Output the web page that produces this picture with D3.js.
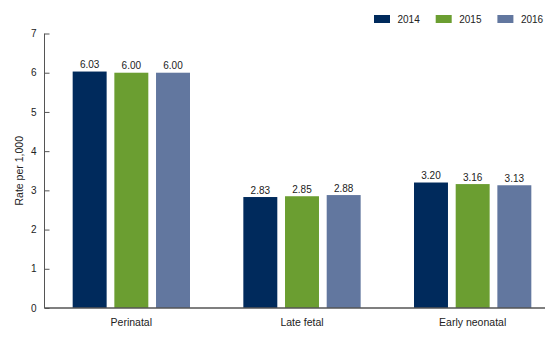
<!DOCTYPE html>
<html>
<head>
<meta charset="utf-8">
<script src="https://cdn.jsdelivr.net/npm/d3@7"></script>
<style>
  body { margin: 0; background: #fff; }
  text { font-family: "Liberation Sans", Arial, sans-serif; font-size: 10px; fill: #222; }
  text.category, text.ytitle { font-size: 10.5px; }
</style>
</head>
<body>
<div id="chart"></div>
<script>
const categories = ['Perinatal', 'Late fetal', 'Early neonatal'];
const years = ['2014', '2015', '2016'];
const rates2014 = [6.03, 2.83, 3.20];
const rates2015 = [6.00, 2.85, 3.16];
const rates2016 = [6.00, 2.88, 3.13];
const yTicks = [0, 1, 2, 3, 4, 5, 6, 7];

const colors = { '2014': '#002a5c', '2015': '#6b9e31', '2016': '#62779f' };
const series = { '2014': rates2014, '2015': rates2015, '2016': rates2016 };

const width = 560;
const height = 344;

const svg = d3.select('#chart').append('svg')
  .attr('width', width)
  .attr('height', height);

const x0 = d3.scaleBand().domain(categories).range([46, 558]);
const x1 = d3.scaleBand().domain(years)
  .range([0, x0.bandwidth()])
  .paddingInner(0.185)
  .paddingOuter(0.64);
const y = d3.scaleLinear().domain([0, 7]).range([308, 33.5]);

const rows = categories.map((c, i) => ({
  category: c,
  values: years.map(yr => ({ year: yr, value: series[yr][i] }))
}));

// y axis with inward ticks
const yAxis = svg.append('g')
  .attr('transform', 'translate(44.5,0)')
  .call(d3.axisRight(y).tickValues(yTicks).tickSize(5).tickFormat(d3.format('d')));
yAxis.select('.domain').attr('stroke', '#555').attr('d', `M0,${y(7)}V${y(0)}`);
yAxis.selectAll('.tick line').attr('stroke', '#555');
yAxis.selectAll('.tick text')
  .attr('x', -8)
  .attr('text-anchor', 'end')
  .style('font-size', '10px')
  .attr('fill', '#222');

svg.append('text')
  .attr('class', 'ytitle')
  .attr('transform', `translate(23,${(y(0) + y(7)) / 2}) rotate(-90)`)
  .attr('text-anchor', 'middle')
  .text('Rate per 1,000');

const groups = svg.selectAll('g.group')
  .data(rows)
  .join('g')
  .attr('class', 'group')
  .attr('transform', d => `translate(${x0(d.category)},0)`);

groups.selectAll('rect')
  .data(d => d.values)
  .join('rect')
  .attr('x', d => x1(d.year))
  .attr('y', d => y(d.value))
  .attr('width', x1.bandwidth())
  .attr('height', d => y(0) - y(d.value))
  .attr('fill', d => colors[d.year]);

groups.selectAll('text.value')
  .data(d => d.values)
  .join('text')
  .attr('class', 'value')
  .attr('x', d => x1(d.year) + x1.bandwidth() / 2)
  .attr('y', d => y(d.value) - 3.5)
  .attr('text-anchor', 'middle')
  .text(d => d3.format('.2f')(d.value));

// baseline
svg.append('line')
  .attr('x1', 44.5).attr('x2', 545)
  .attr('y1', y(0)).attr('y2', y(0))
  .attr('stroke', '#555')
  .attr('stroke-width', 1.5);

svg.selectAll('text.category')
  .data(categories)
  .join('text')
  .attr('class', 'category')
  .attr('x', d => x0(d) + x0.bandwidth() / 2)
  .attr('y', 326)
  .attr('text-anchor', 'middle')
  .text(d => d);

// legend
const legend = svg.append('g').attr('transform', 'translate(374,15)');
const item = legend.selectAll('g')
  .data(years)
  .join('g')
  .attr('transform', (d, i) => `translate(${i * 61.7},0)`);
item.append('rect')
  .attr('width', 16)
  .attr('height', 8)
  .attr('fill', d => colors[d]);
item.append('text')
  .attr('x', 23.5)
  .attr('y', 7.8)
  .text(d => d);
</script>
</body>
</html>
